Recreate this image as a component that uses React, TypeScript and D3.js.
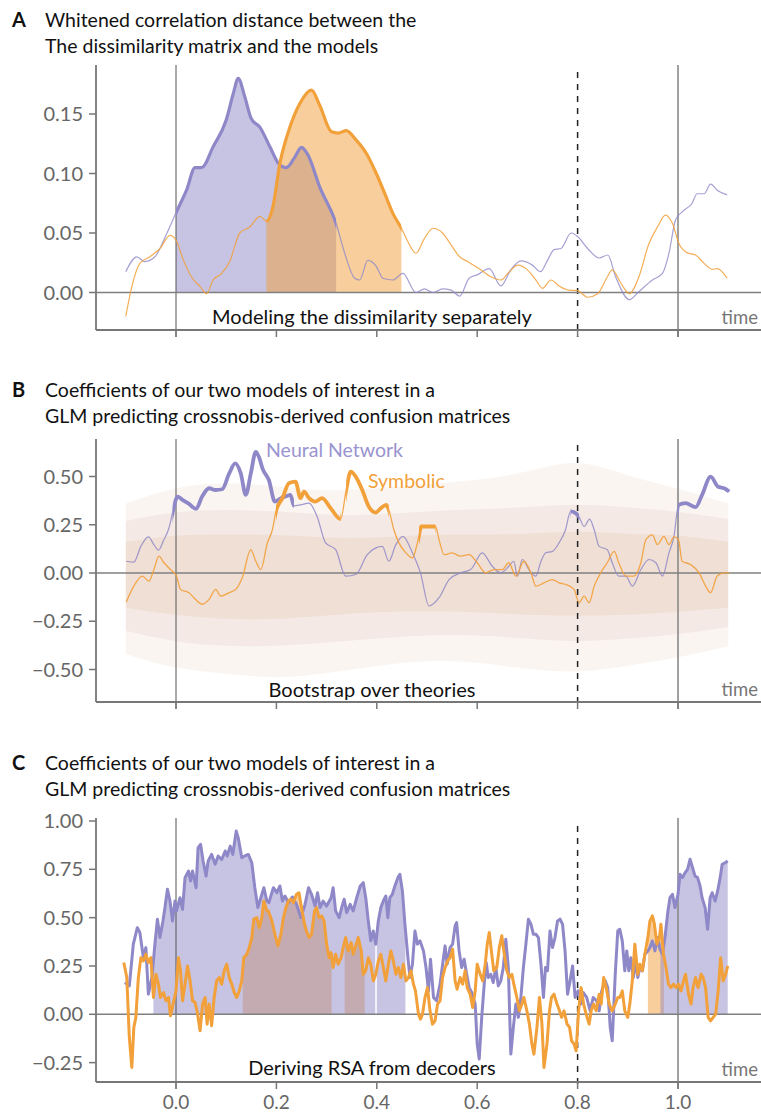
import React from 'react';
import * as d3 from 'd3';

const W = 761;
const H = 1115;
const PURPLE = '#8f88c8';
const ORANGE = '#f2a03a';
const FONT = "Lato, 'Open Sans', sans-serif";

// ---------- Panel A data ----------
const aNeural: [number, number][] = [
  [-0.1, 0.0175], [-0.078, 0.03], [-0.062, 0.026], [-0.042, 0.03], [-0.018, 0.05], [0, 0.067], [0.021, 0.086], [0.038, 0.105], [0.051, 0.105], [0.074, 0.1225], [0.1, 0.145], [0.114, 0.167], [0.124, 0.18], [0.137, 0.1645], [0.15, 0.146], [0.167, 0.139], [0.187, 0.1225], [0.207, 0.107], [0.22, 0.105], [0.237, 0.114], [0.25, 0.122], [0.263, 0.1155], [0.286, 0.089], [0.319, 0.058], [0.336, 0.033], [0.356, 0.012], [0.366, 0.0105], [0.382, 0.027], [0.399, 0.022], [0.412, 0.012], [0.432, 0.0105], [0.452, 0.016], [0.478, 0.0], [0.495, 0.003], [0.512, 0.0], [0.531, 0.003], [0.548, 0.002], [0.565, -0.003], [0.584, 0.012], [0.601, 0.015], [0.624, 0.02], [0.647, 0.0055], [0.667, 0.019], [0.687, 0.0265], [0.71, 0.023], [0.726, 0.0175], [0.74, 0.027], [0.753, 0.036], [0.767, 0.037], [0.787, 0.05], [0.8, 0.047], [0.82, 0.037], [0.843, 0.029], [0.86, 0.0315], [0.876, 0.013], [0.903, -0.006], [0.922, 0.0007], [0.949, 0.0105], [0.969, 0.016], [0.982, 0.033], [0.995, 0.061], [1.009, 0.068], [1.028, 0.075], [1.038, 0.083], [1.052, 0.083], [1.065, 0.091], [1.078, 0.086], [1.098, 0.082],
];
const aSymbolic: [number, number][] = [
  [-0.1, -0.02], [-0.088, 0.005], [-0.072, 0.0245], [-0.052, 0.03], [-0.032, 0.037], [-0.012, 0.048], [0, 0.044], [0.015, 0.027], [0.031, 0.013], [0.048, 0.005], [0.061, -0.001], [0.074, 0.0105], [0.091, 0.016], [0.107, 0.026], [0.127, 0.05], [0.147, 0.055], [0.167, 0.064], [0.18, 0.06], [0.193, 0.072], [0.207, 0.1085], [0.227, 0.139], [0.247, 0.159], [0.27, 0.17], [0.286, 0.1575], [0.31, 0.135], [0.323, 0.134], [0.339, 0.136], [0.359, 0.128], [0.379, 0.117], [0.399, 0.1], [0.416, 0.083], [0.432, 0.0665], [0.449, 0.054], [0.462, 0.0427], [0.478, 0.033], [0.495, 0.0455], [0.512, 0.054], [0.531, 0.05], [0.548, 0.04], [0.565, 0.03], [0.581, 0.026], [0.604, 0.02], [0.628, 0.013], [0.647, 0.0105], [0.664, 0.0175], [0.681, 0.023], [0.7, 0.019], [0.717, 0.0105], [0.73, 0.0035], [0.747, 0.0105], [0.763, 0.0055], [0.783, 0.002], [0.8, 0.0015], [0.82, -0.004], [0.84, -0.001], [0.859, 0.013], [0.869, 0.019], [0.886, 0.008], [0.903, -0.001], [0.922, 0.013], [0.942, 0.041], [0.959, 0.055], [0.975, 0.065], [0.989, 0.058], [1.002, 0.041], [1.018, 0.0335], [1.035, 0.0315], [1.052, 0.0245], [1.068, 0.0195], [1.078, 0.02], [1.098, 0.012],
];
const aNeuralSig: [number, number][] = [[0, 0.319]];
const aSymbolicSig: [number, number][] = [[0.18, 0.449]];
const aTicks = [0, 0.05, 0.1, 0.15];

// ---------- Panel B data ----------
const bNeural: [number, number][] = [
  [-0.099, 0.061], [-0.084, 0.056], [-0.07, 0.138], [-0.055, 0.187], [-0.044, 0.147], [-0.035, 0.118], [-0.024, 0.173], [-0.014, 0.233], [-0.007, 0.31], [0.003, 0.396], [0.013, 0.379], [0.026, 0.358], [0.04, 0.332], [0.052, 0.396], [0.066, 0.439], [0.079, 0.43], [0.092, 0.434], [0.106, 0.516], [0.118, 0.568], [0.129, 0.516], [0.139, 0.405], [0.149, 0.516], [0.159, 0.628], [0.165, 0.602], [0.173, 0.537], [0.185, 0.482], [0.197, 0.37], [0.209, 0.388], [0.218, 0.396], [0.228, 0.405], [0.235, 0.348], [0.248, 0.353], [0.265, 0.362], [0.281, 0.293], [0.298, 0.156], [0.318, 0.121], [0.338, -0.016], [0.358, -0.008], [0.381, 0.095], [0.398, 0.13], [0.411, 0.138], [0.424, 0.061], [0.438, 0.147], [0.452, 0.19], [0.471, 0.104], [0.487, 0.001], [0.504, -0.171], [0.524, -0.128], [0.544, -0.034], [0.567, 0.001], [0.587, 0.018], [0.61, 0.104], [0.63, 0.035], [0.647, 0.001], [0.663, 0.035], [0.673, 0.061], [0.68, -0.016], [0.69, 0.07], [0.703, 0.018], [0.717, -0.016], [0.726, 0.053], [0.736, 0.104], [0.75, 0.112], [0.763, 0.156], [0.776, 0.224], [0.786, 0.319], [0.796, 0.31], [0.803, 0.29], [0.813, 0.241], [0.824, 0.279], [0.833, 0.224], [0.843, 0.138], [0.859, 0.121], [0.869, 0.053], [0.882, -0.016], [0.896, -0.016], [0.909, -0.068], [0.926, 0.018], [0.942, 0.07], [0.956, 0.053], [0.969, -0.016], [0.982, 0.104], [0.992, 0.19], [1.001, 0.353], [1.015, 0.362], [1.035, 0.341], [1.048, 0.405], [1.065, 0.499], [1.08, 0.447], [1.092, 0.439], [1.102, 0.422],
];
const bSymbolic: [number, number][] = [
  [-0.099, -0.15], [-0.084, -0.068], [-0.067, -0.016], [-0.054, -0.042], [-0.044, 0.018], [-0.034, 0.087], [-0.024, 0.053], [-0.011, 0.018], [0.001, -0.016], [0.009, -0.085], [0.026, -0.102], [0.039, -0.137], [0.052, -0.162], [0.066, -0.137], [0.079, -0.085], [0.089, -0.12], [0.106, -0.102], [0.119, -0.085], [0.132, -0.025], [0.149, 0.121], [0.159, 0.061], [0.169, 0.018], [0.182, 0.156], [0.192, 0.224], [0.199, 0.319], [0.212, 0.388], [0.225, 0.465], [0.238, 0.473], [0.248, 0.388], [0.255, 0.422], [0.265, 0.388], [0.278, 0.37], [0.291, 0.388], [0.308, 0.336], [0.328, 0.279], [0.339, 0.43], [0.348, 0.525], [0.358, 0.499], [0.371, 0.43], [0.384, 0.344], [0.398, 0.313], [0.408, 0.336], [0.419, 0.353], [0.424, 0.327], [0.434, 0.224], [0.444, 0.156], [0.458, 0.104], [0.471, 0.078], [0.481, 0.156], [0.489, 0.241], [0.504, 0.241], [0.517, 0.241], [0.524, 0.173], [0.534, 0.095], [0.55, 0.104], [0.567, 0.087], [0.584, 0.095], [0.6, 0.053], [0.617, 0.001], [0.633, 0.018], [0.65, 0.018], [0.663, 0.053], [0.677, -0.016], [0.693, 0.061], [0.707, 0.001], [0.717, -0.068], [0.733, -0.051], [0.75, -0.034], [0.763, -0.051], [0.776, -0.059], [0.793, -0.085], [0.803, -0.154], [0.813, -0.12], [0.823, -0.154], [0.833, -0.068], [0.846, 0.001], [0.859, 0.053], [0.873, 0.112], [0.882, 0.053], [0.896, -0.016], [0.912, -0.016], [0.926, 0.053], [0.936, 0.173], [0.949, 0.198], [0.959, 0.147], [0.972, 0.19], [0.982, 0.147], [0.992, 0.187], [1.001, 0.173], [1.008, 0.061], [1.025, 0.044], [1.042, 0.001], [1.055, -0.068], [1.065, -0.102], [1.078, -0.016], [1.092, 0.001], [1.102, 0.001],
];
const bNeuralSig: [number, number][] = [[-0.007, 0.235], [0.786, 0.803], [1.0, 1.11]];
const bSymbolicSig: [number, number][] = [[0.199, 0.328], [0.339, 0.424], [0.484, 0.517]];
const bTicks = [-0.5, -0.25, 0, 0.25, 0.5];
// bootstrap cloud envelope, read at coarse times
const bCloudT = [-0.1, 0, 0.1, 0.2, 0.3, 0.4, 0.5, 0.6, 0.7, 0.8, 0.9, 1.0, 1.1];
const bOuterHi = [0.36, 0.45, 0.47, 0.45, 0.42, 0.44, 0.46, 0.48, 0.52, 0.6, 0.5, 0.44, 0.36];
const bOuterLo = [-0.42, -0.5, -0.52, -0.55, -0.52, -0.48, -0.45, -0.46, -0.5, -0.52, -0.48, -0.44, -0.38];
const bMidHi = [0.27, 0.32, 0.33, 0.32, 0.3, 0.3, 0.32, 0.33, 0.34, 0.36, 0.34, 0.32, 0.28];
const bMidLo = [-0.3, -0.36, -0.38, -0.38, -0.36, -0.34, -0.32, -0.32, -0.34, -0.36, -0.34, -0.32, -0.28];
const bCoreHi = [0.16, 0.2, 0.2, 0.2, 0.18, 0.18, 0.2, 0.2, 0.2, 0.22, 0.2, 0.2, 0.16];
const bCoreLo = [-0.18, -0.22, -0.24, -0.24, -0.22, -0.2, -0.2, -0.2, -0.22, -0.22, -0.22, -0.2, -0.18];

// ---------- Panel C data ----------
const cNeural: [number, number][] = [
  [-0.102, 0.164], [-0.093, 0.147], [-0.085, 0.363], [-0.077, 0.448], [-0.072, 0.423], [-0.065, 0.293], [-0.06, 0.345], [-0.055, 0.104], [-0.048, 0.19], [-0.042, 0.363], [-0.037, 0.492], [-0.032, 0.397], [-0.026, 0.483], [-0.022, 0.552], [-0.017, 0.647], [-0.012, 0.586], [-0.007, 0.483], [-0.002, 0.586], [0.001, 0.535], [0.008, 0.603], [0.013, 0.543], [0.018, 0.707], [0.025, 0.741], [0.029, 0.69], [0.033, 0.741], [0.04, 0.655], [0.044, 0.862], [0.049, 0.879], [0.054, 0.793], [0.06, 0.715], [0.064, 0.793], [0.071, 0.827], [0.078, 0.776], [0.084, 0.819], [0.091, 0.801], [0.098, 0.845], [0.102, 0.819], [0.108, 0.87], [0.113, 0.827], [0.12, 0.948], [0.124, 0.913], [0.131, 0.81], [0.137, 0.819], [0.144, 0.827], [0.151, 0.784], [0.157, 0.655], [0.163, 0.552], [0.169, 0.603], [0.175, 0.655], [0.181, 0.586], [0.185, 0.578], [0.194, 0.655], [0.201, 0.629], [0.207, 0.664], [0.212, 0.586], [0.217, 0.612], [0.224, 0.578], [0.232, 0.607], [0.24, 0.569], [0.249, 0.5], [0.257, 0.569], [0.264, 0.655], [0.27, 0.621], [0.277, 0.56], [0.282, 0.629], [0.287, 0.552], [0.293, 0.586], [0.3, 0.56], [0.309, 0.603], [0.313, 0.655], [0.318, 0.535], [0.325, 0.5], [0.33, 0.552], [0.335, 0.595], [0.34, 0.526], [0.347, 0.569], [0.353, 0.535], [0.36, 0.603], [0.367, 0.664], [0.373, 0.681], [0.378, 0.603], [0.383, 0.483], [0.388, 0.38], [0.393, 0.431], [0.398, 0.363], [0.403, 0.483], [0.408, 0.552], [0.413, 0.586], [0.418, 0.612], [0.422, 0.5], [0.426, 0.603], [0.431, 0.621], [0.436, 0.664], [0.442, 0.707], [0.446, 0.724], [0.451, 0.638], [0.456, 0.466], [0.462, 0.293], [0.466, 0.19], [0.471, 0.259], [0.476, 0.431], [0.481, 0.363], [0.486, 0.38], [0.493, 0.328], [0.498, 0.242], [0.503, 0.121], [0.507, 0.285], [0.513, 0.087], [0.519, 0.07], [0.526, 0.156], [0.532, 0.276], [0.536, 0.354], [0.54, 0.259], [0.546, 0.345], [0.551, 0.363], [0.556, 0.457], [0.559, 0.474], [0.564, 0.328], [0.569, 0.242], [0.574, 0.285], [0.579, 0.207], [0.584, 0.138], [0.589, 0.113], [0.596, 0.053], [0.6, -0.154], [0.604, -0.231], [0.609, -0.016], [0.614, 0.156], [0.618, 0.268], [0.622, 0.19], [0.627, 0.207], [0.632, 0.164], [0.637, 0.242], [0.642, 0.147], [0.647, 0.173], [0.652, 0.242], [0.657, 0.388], [0.662, 0.242], [0.667, -0.206], [0.672, -0.068], [0.677, 0.053], [0.682, -0.016], [0.687, 0.087], [0.692, 0.242], [0.697, 0.363], [0.702, 0.492], [0.707, 0.466], [0.712, 0.414], [0.717, 0.414], [0.722, 0.397], [0.727, 0.259], [0.732, 0.087], [0.736, 0.242], [0.74, 0.225], [0.745, 0.431], [0.75, 0.345], [0.755, 0.397], [0.76, 0.483], [0.765, 0.492], [0.77, 0.466], [0.775, 0.328], [0.78, 0.104], [0.785, 0.173], [0.79, 0.25], [0.795, 0.087], [0.801, 0.121], [0.807, 0.053], [0.811, 0.113], [0.818, 0.087], [0.825, 0.018], [0.831, 0.087], [0.838, 0.07], [0.843, 0.018], [0.848, 0.121], [0.855, 0.173], [0.86, 0.138], [0.865, -0.068], [0.869, -0.137], [0.875, 0.207], [0.88, 0.431], [0.884, 0.44], [0.889, 0.38], [0.894, 0.225], [0.898, 0.328], [0.902, 0.225], [0.906, 0.293], [0.911, 0.19], [0.916, 0.276], [0.92, 0.19], [0.924, 0.242], [0.929, 0.225], [0.934, 0.311], [0.94, 0.328], [0.944, 0.345], [0.949, 0.38], [0.954, 0.328], [0.96, 0.397], [0.964, 0.337], [0.969, 0.311], [0.974, 0.397], [0.98, 0.535], [0.984, 0.603], [0.989, 0.621], [0.994, 0.552], [1.0, 0.621], [1.004, 0.724], [1.009, 0.707], [1.014, 0.732], [1.019, 0.75], [1.024, 0.802], [1.029, 0.758], [1.034, 0.715], [1.039, 0.707], [1.044, 0.664], [1.048, 0.603], [1.054, 0.552], [1.059, 0.44], [1.064, 0.603], [1.068, 0.629], [1.074, 0.586], [1.079, 0.638], [1.084, 0.707], [1.088, 0.776], [1.094, 0.784], [1.099, 0.793],
];
const cSymbolic: [number, number][] = [
  [-0.104, 0.268], [-0.098, 0.19], [-0.093, -0.12], [-0.088, -0.275], [-0.084, -0.068], [-0.08, -0.016], [-0.075, 0.19], [-0.07, 0.293], [-0.065, 0.276], [-0.06, 0.311], [-0.055, 0.268], [-0.05, 0.293], [-0.045, 0.087], [-0.04, 0.207], [-0.035, 0.156], [-0.031, 0.087], [-0.025, 0.113], [-0.02, 0.07], [-0.015, 0.087], [-0.011, -0.008], [-0.005, 0.061], [0.0, 0.121], [0.005, 0.293], [0.009, 0.225], [0.013, 0.07], [0.018, 0.156], [0.023, 0.25], [0.028, 0.173], [0.033, 0.07], [0.038, 0.061], [0.042, 0.018], [0.048, -0.085], [0.053, 0.053], [0.058, 0.087], [0.062, -0.051], [0.066, 0.053], [0.071, -0.059], [0.076, 0.087], [0.081, 0.173], [0.086, 0.19], [0.091, 0.156], [0.096, 0.225], [0.101, 0.259], [0.106, 0.19], [0.111, 0.156], [0.116, 0.113], [0.121, 0.087], [0.126, 0.121], [0.131, 0.173], [0.135, 0.293], [0.141, 0.311], [0.146, 0.345], [0.151, 0.397], [0.155, 0.492], [0.161, 0.5], [0.166, 0.448], [0.171, 0.5], [0.175, 0.586], [0.181, 0.535], [0.184, 0.535], [0.191, 0.483], [0.197, 0.414], [0.203, 0.354], [0.209, 0.414], [0.214, 0.5], [0.219, 0.552], [0.224, 0.586], [0.229, 0.595], [0.234, 0.578], [0.24, 0.621], [0.245, 0.629], [0.25, 0.552], [0.256, 0.466], [0.26, 0.431], [0.265, 0.397], [0.27, 0.414], [0.276, 0.535], [0.28, 0.552], [0.285, 0.5], [0.29, 0.509], [0.295, 0.483], [0.3, 0.363], [0.305, 0.293], [0.309, 0.319], [0.313, 0.242], [0.318, 0.311], [0.323, 0.259], [0.329, 0.293], [0.333, 0.345], [0.338, 0.397], [0.343, 0.328], [0.349, 0.371], [0.353, 0.311], [0.358, 0.354], [0.363, 0.397], [0.369, 0.328], [0.373, 0.207], [0.378, 0.225], [0.383, 0.293], [0.388, 0.259], [0.393, 0.173], [0.398, 0.207], [0.403, 0.276], [0.408, 0.311], [0.413, 0.242], [0.418, 0.173], [0.423, 0.259], [0.428, 0.328], [0.433, 0.276], [0.438, 0.207], [0.443, 0.242], [0.448, 0.19], [0.453, 0.259], [0.458, 0.173], [0.463, 0.19], [0.468, 0.225], [0.473, 0.156], [0.477, 0.121], [0.483, 0.001], [0.487, -0.025], [0.491, 0.0], [0.496, 0.087], [0.501, 0.138], [0.506, 0.018], [0.511, -0.051], [0.516, -0.034], [0.521, 0.053], [0.526, 0.07], [0.531, 0.19], [0.536, 0.242], [0.541, 0.276], [0.546, 0.293], [0.551, 0.337], [0.556, 0.173], [0.56, 0.13], [0.566, 0.19], [0.571, 0.156], [0.576, 0.225], [0.58, 0.138], [0.586, 0.104], [0.591, 0.035], [0.596, 0.121], [0.6, 0.259], [0.606, 0.207], [0.611, 0.173], [0.616, 0.259], [0.62, 0.363], [0.624, 0.423], [0.629, 0.311], [0.633, 0.225], [0.639, 0.242], [0.644, 0.345], [0.649, 0.406], [0.653, 0.328], [0.659, 0.225], [0.664, 0.19], [0.669, 0.207], [0.673, 0.156], [0.679, 0.087], [0.684, 0.018], [0.689, 0.053], [0.693, 0.087], [0.699, 0.018], [0.704, -0.051], [0.709, -0.154], [0.713, -0.206], [0.719, -0.068], [0.724, 0.087], [0.729, -0.051], [0.733, -0.275], [0.739, -0.154], [0.744, 0.018], [0.748, 0.087], [0.753, 0.104], [0.759, 0.053], [0.764, 0.018], [0.768, -0.016], [0.773, 0.018], [0.779, -0.051], [0.784, -0.068], [0.788, -0.137], [0.793, -0.154], [0.797, -0.189], [0.802, 0.018], [0.807, 0.138], [0.812, 0.053], [0.817, 0.001], [0.823, -0.051], [0.827, 0.018], [0.832, 0.053], [0.837, 0.018], [0.843, 0.104], [0.847, 0.053], [0.852, 0.19], [0.857, 0.138], [0.863, 0.053], [0.866, 0.035], [0.869, 0.018], [0.875, 0.053], [0.88, 0.087], [0.884, 0.087], [0.889, 0.121], [0.894, 0.018], [0.9, -0.016], [0.904, 0.053], [0.909, 0.173], [0.914, 0.363], [0.92, 0.207], [0.924, 0.259], [0.929, 0.225], [0.934, 0.311], [0.94, 0.397], [0.944, 0.483], [0.949, 0.509], [0.953, 0.466], [0.958, 0.363], [0.963, 0.397], [0.966, 0.466], [0.971, 0.311], [0.975, 0.259], [0.981, 0.156], [0.986, 0.138], [0.991, 0.156], [0.996, 0.138], [1.001, 0.156], [1.006, 0.121], [1.011, 0.173], [1.015, 0.207], [1.021, 0.104], [1.026, 0.053], [1.03, 0.138], [1.035, 0.19], [1.04, 0.138], [1.046, 0.207], [1.05, 0.19], [1.055, 0.138], [1.06, -0.016], [1.065, -0.034], [1.07, -0.016], [1.075, 0.001], [1.08, 0.121], [1.085, 0.293], [1.09, 0.173], [1.095, 0.207], [1.099, 0.25],
];
const cNeuralSig: [number, number][] = [[-0.045, 0.397], [0.4, 0.457], [0.965, 1.1]];
const cSymbolicSig: [number, number][] = [[0.133, 0.31], [0.336, 0.376], [0.94, 0.972]];
const cTicks = [-0.25, 0, 0.25, 0.5, 0.75, 1.0];

const xTicks = [0, 0.2, 0.4, 0.6, 0.8, 1.0];

const x = d3.scaleLinear().domain([0, 1]).range([176, 678]);
const AXIS_X = 96;
const RIGHT = 761;

const fmtY = (v: number) => (v < 0 ? '\u2212' : '') + Math.abs(v).toFixed(2);

type PanelFrame = { top: number; bottom: number; y: d3.ScaleLinear<number, number> };

function Frame({ f, ticks, xLabels, dashTop }: { f: PanelFrame; ticks: number[]; xLabels: boolean; dashTop: number }) {
  const y0 = f.y(0);
  return (
    <g>
      <line x1={x(0)} x2={x(0)} y1={f.top} y2={f.bottom + 7} stroke="#555" strokeWidth={1} />
      <line x1={x(1)} x2={x(1)} y1={f.top} y2={f.bottom + 7} stroke="#8a8a8a" strokeWidth={1.6} />
      <line x1={x(0.8)} x2={x(0.8)} y1={dashTop} y2={f.bottom + 7} stroke="#222" strokeWidth={1.5} strokeDasharray="6,6" />
      <line x1={AXIS_X} x2={RIGHT} y1={y0} y2={y0} stroke="#808080" strokeWidth={1.6} />
      <line x1={AXIS_X} x2={AXIS_X} y1={f.top} y2={f.bottom} stroke="#777" strokeWidth={1.8} />
      {ticks.map((t) => (
        <g key={t}>
          <line x1={AXIS_X - 7} x2={AXIS_X} y1={f.y(t)} y2={f.y(t)} stroke="#777" strokeWidth={1.5} />
          <text x={AXIS_X - 13} y={f.y(t)} dy="0.35em" textAnchor="end" fontSize={20} fill="#666" fontFamily={FONT}>
            {fmtY(t)}
          </text>
        </g>
      ))}
      <line x1={AXIS_X} x2={RIGHT} y1={f.bottom} y2={f.bottom} stroke="#777" strokeWidth={2} />
      {xTicks.map((t) => (
        <g key={t}>
          <line x1={x(t)} x2={x(t)} y1={f.bottom} y2={f.bottom + 7} stroke="#777" strokeWidth={1.5} />
          {xLabels && (
            <text x={x(t)} y={f.bottom + 27} textAnchor="middle" fontSize={19} fill="#666" fontFamily={FONT}>
              {t.toFixed(1)}
            </text>
          )}
        </g>
      ))}
      <text x={758} y={f.bottom - 6} textAnchor="end" fontSize={18.5} fill="#777" fontFamily={FONT}>
        time
      </text>
    </g>
  );
}

function SigClip({ id, sig, top, bottom }: { id: string; sig: [number, number][]; top: number; bottom: number }) {
  return (
    <clipPath id={id}>
      {sig.map(([a, b], i) => (
        <rect key={i} x={x(a)} y={top - 40} width={x(b) - x(a)} height={bottom - top + 80} />
      ))}
    </clipPath>
  );
}

export default function App() {
  const fA: PanelFrame = { top: 65, bottom: 330, y: d3.scaleLinear().domain([0, 0.15]).range([292.5, 114]) };
  const fB: PanelFrame = { top: 439, bottom: 702, y: d3.scaleLinear().domain([0, 0.5]).range([573, 476.5]) };
  const fC: PanelFrame = { top: 818, bottom: 1082, y: d3.scaleLinear().domain([0, 1]).range([1014.3, 821]) };

  const lineA = d3.line<[number, number]>().x((d) => x(d[0])).y((d) => fA.y(d[1])).curve(d3.curveMonotoneX);
  const areaA = d3.area<[number, number]>().x((d) => x(d[0])).y0(fA.y(0)).y1((d) => fA.y(d[1])).curve(d3.curveMonotoneX);

  const lineB = d3.line<[number, number]>().x((d) => x(d[0])).y((d) => fB.y(d[1])).curve(d3.curveMonotoneX);

  const cloudIdx = bCloudT.map((_, i) => i);
  const band = (hi: number[], lo: number[]) =>
    d3
      .area<number>()
      .x((i) => x(bCloudT[i]))
      .y0((i) => fB.y(lo[i]))
      .y1((i) => fB.y(hi[i]))
      .curve(d3.curveBasis)(cloudIdx) || '';

  const lineC = d3.line<[number, number]>().x((d) => x(d[0])).y((d) => fC.y(d[1]));
  const areaC = d3.area<[number, number]>().x((d) => x(d[0])).y0(fC.y(0)).y1((d) => fC.y(d[1]));

  const titleProps = { fontSize: 19.5, fill: '#111', fontFamily: FONT };
  const letterProps = { fontSize: 20, fill: '#111', fontFamily: FONT, fontWeight: 700 as const };
  const noteProps = { fontSize: 20, fill: '#111', fontFamily: FONT, textAnchor: 'middle' as const };

  return (
    <svg width={W} height={H} viewBox={`0 0 ${W} ${H}`} style={{ position: 'absolute', left: 0, top: 0, background: '#fff' }}>
      <defs>
        <SigClip id="aN" sig={aNeuralSig} top={fA.top} bottom={fA.bottom} />
        <SigClip id="aS" sig={aSymbolicSig} top={fA.top} bottom={fA.bottom} />
        <SigClip id="bN" sig={bNeuralSig} top={fB.top} bottom={fB.bottom} />
        <SigClip id="bS" sig={bSymbolicSig} top={fB.top} bottom={fB.bottom} />
        <SigClip id="cN" sig={cNeuralSig} top={fC.top} bottom={fC.bottom} />
        <SigClip id="cS" sig={cSymbolicSig} top={fC.top} bottom={fC.bottom} />
      </defs>
      <rect x={0} y={0} width={W} height={H} fill="#fff" />

      {/* ---------------- Panel A ---------------- */}
      <text x={12} y={27} {...letterProps}>A</text>
      <text x={45} y={27} {...titleProps}>Whitened correlation distance between the</text>
      <text x={45} y={53} {...titleProps}>The dissimilarity matrix and the models</text>
      <g clipPath="url(#aN)">
        <path d={areaA(aNeural) || ''} fill={PURPLE} fillOpacity={0.5} />
      </g>
      <g clipPath="url(#aS)">
        <path d={areaA(aSymbolic) || ''} fill={ORANGE} fillOpacity={0.5} />
      </g>
      <Frame f={fA} ticks={aTicks} xLabels={false} dashTop={72} />
      <path d={lineA(aNeural) || ''} fill="none" stroke={PURPLE} strokeWidth={1.2} strokeOpacity={0.8} />
      <path d={lineA(aSymbolic) || ''} fill="none" stroke={ORANGE} strokeWidth={1.2} strokeOpacity={0.85} />
      <g clipPath="url(#aN)">
        <path d={lineA(aNeural) || ''} fill="none" stroke={PURPLE} strokeWidth={3.2} />
      </g>
      <g clipPath="url(#aS)">
        <path d={lineA(aSymbolic) || ''} fill="none" stroke={ORANGE} strokeWidth={3.2} />
      </g>
      <text x={372} y={324} {...noteProps}>Modeling the dissimilarity separately</text>

      {/* ---------------- Panel B ---------------- */}
      <text x={12} y={397} {...letterProps}>B</text>
      <text x={45} y={397} {...titleProps}>Coefficients of our two models of interest in a</text>
      <text x={45} y={423} {...titleProps}>GLM predicting crossnobis-derived confusion matrices</text>
      <path d={band(bOuterHi, bOuterLo)} fill="#e2bfa6" fillOpacity={0.16} />
      <path d={band(bMidHi, bMidLo)} fill="#d9b8ae" fillOpacity={0.18} />
      <path d={band(bCoreHi, bCoreLo)} fill="#e0b898" fillOpacity={0.2} />
      <Frame f={fB} ticks={bTicks} xLabels={false} dashTop={445} />
      <path d={lineB(bNeural) || ''} fill="none" stroke={PURPLE} strokeWidth={1.2} strokeOpacity={0.85} />
      <path d={lineB(bSymbolic) || ''} fill="none" stroke={ORANGE} strokeWidth={1.3} strokeOpacity={0.9} />
      <g clipPath="url(#bN)">
        <path d={lineB(bNeural) || ''} fill="none" stroke={PURPLE} strokeWidth={3.8} />
      </g>
      <g clipPath="url(#bS)">
        <path d={lineB(bSymbolic) || ''} fill="none" stroke={ORANGE} strokeWidth={3.8} />
      </g>
      <text x={266} y={457} fontSize={19.5} fill="#9a94d0" fontFamily={FONT}>Neural Network</text>
      <text x={368} y={488} fontSize={19.5} fill={ORANGE} fontFamily={FONT}>Symbolic</text>
      <text x={372} y={697} {...noteProps}>Bootstrap over theories</text>

      {/* ---------------- Panel C ---------------- */}
      <text x={12} y={770} {...letterProps}>C</text>
      <text x={45} y={770} {...titleProps}>Coefficients of our two models of interest in a</text>
      <text x={45} y={796} {...titleProps}>GLM predicting crossnobis-derived confusion matrices</text>
      <g clipPath="url(#cS)">
        <path d={areaC(cSymbolic) || ''} fill={ORANGE} fillOpacity={0.5} />
      </g>
      <g clipPath="url(#cN)">
        <path d={areaC(cNeural) || ''} fill={PURPLE} fillOpacity={0.5} />
      </g>
      <Frame f={fC} ticks={cTicks} xLabels={true} dashTop={826} />
      <path d={lineC(cNeural) || ''} fill="none" stroke={PURPLE} strokeWidth={3} strokeLinejoin="round" />
      <path d={lineC(cSymbolic) || ''} fill="none" stroke={ORANGE} strokeWidth={3} strokeLinejoin="round" />
      <text x={372} y={1075} {...noteProps}>Deriving RSA from decoders</text>
    </svg>
  );
}
